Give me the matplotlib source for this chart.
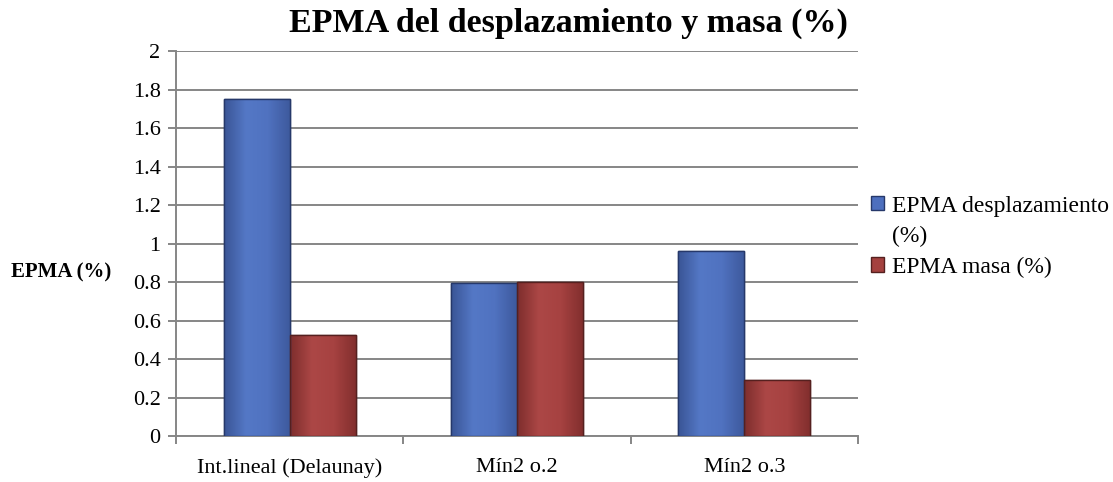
import matplotlib
matplotlib.use("Agg")
import matplotlib.pyplot as plt
import numpy as np
from matplotlib.colors import LinearSegmentedColormap
from matplotlib.patches import Rectangle

categories = ["Int.lineal (Delaunay)", "Mín2 o.2", "Mín2 o.3"]
desplazamiento = [1.75, 0.795, 0.96]
masa = [0.525, 0.80, 0.29]
series_names = ["EPMA desplazamiento (%)", "EPMA masa (%)"]
yticks = [0, 0.2, 0.4, 0.6, 0.8, 1, 1.2, 1.4, 1.6, 1.8, 2]

plt.rcParams['font.family'] = ['Liberation Serif', 'DejaVu Serif']

fig = plt.figure(figsize=(11.13, 4.82), dpi=100)
ax = fig.add_axes([0.158, 0.0954, 0.613, 0.7986])

x = np.arange(len(categories))
w = 0.29
b1 = ax.bar(x - w/2, desplazamiento, w, color="#4D6FBE", edgecolor="#26386A", linewidth=1.0,
            label=series_names[0], zorder=3)
b2 = ax.bar(x + w/2, masa, w, color="#A4413F", edgecolor="#55201F", linewidth=1.0,
            label=series_names[1], zorder=3)

ax.set_xlim(-0.5, len(categories) - 0.5)
ax.set_ylim(0, 2)

# horizontal gradient shading inside bars
grad = np.linspace(0, 1, 64).reshape(1, -1)
cm_blue = LinearSegmentedColormap.from_list("b", ["#3A5596", "#5478C6", "#5072C0", "#3E5A9E"])
cm_red = LinearSegmentedColormap.from_list("r", ["#7E2E2D", "#AC4746", "#A64241", "#832F2E"])
for bars, cm in ((b1, cm_blue), (b2, cm_red)):
    for p in bars:
        x0, y0 = p.get_x(), p.get_y()
        im = ax.imshow(grad, extent=[x0, x0 + p.get_width(), y0, y0 + p.get_height()],
                       aspect="auto", cmap=cm, zorder=3.5, interpolation="bicubic")
        im.set_clip_path(p)
        ax.add_patch(Rectangle((x0, y0), p.get_width(), p.get_height(), fill=False,
                               edgecolor=p.get_edgecolor(), linewidth=1.0, zorder=4))
ax.set_xlim(-0.5, len(categories) - 0.5)
ax.set_ylim(0, 2)

ax.set_yticks(yticks)
ax.set_yticklabels([f"{v:g}" for v in yticks], fontsize=16)
ax.set_xticks(x)
ax.set_xticklabels(categories, fontsize=16)
ax.tick_params(axis='x', length=0, pad=16)
ax.set_xticks(np.arange(len(categories) + 1) - 0.5, minor=True)
ax.tick_params(axis='x', which='minor', length=6, color="#868686", width=1.4)
ax.tick_params(axis='y', length=6, color="#868686", width=1.4, direction='out', pad=5)

ax.grid(axis='y', color="#868686", linewidth=1.4, zorder=0)
for s in ["top", "right"]:
    ax.spines[s].set_visible(False)
for s in ["left", "bottom"]:
    ax.spines[s].set_color("#868686")
    ax.spines[s].set_linewidth(1.4)

fig.text(0.511, 0.952, "EPMA del desplazamiento y masa (%)", ha="center", va="center",
         fontsize=24.5, fontweight="bold")
fig.text(0.055, 0.435, "EPMA (%)", ha="center", va="center", fontsize=15, fontweight="bold")

# legend: first label wraps onto a second line (no marker on the wrapped line)
first, rest = series_names[0].rsplit(" ", 1)
blank = Rectangle((0, 0), 1, 1, fill=False, edgecolor="none", visible=False)
leg = fig.legend(handles=[b1, blank, b2], labels=[first, rest, series_names[1]],
                 loc="upper left", bbox_to_anchor=(0.783, 0.594),
                 frameon=False, fontsize=17, handlelength=0.55, handleheight=0.55,
                 handletextpad=0.3, labelspacing=0.4, borderpad=0, borderaxespad=0)

fig.savefig("out.png", dpi=100)
